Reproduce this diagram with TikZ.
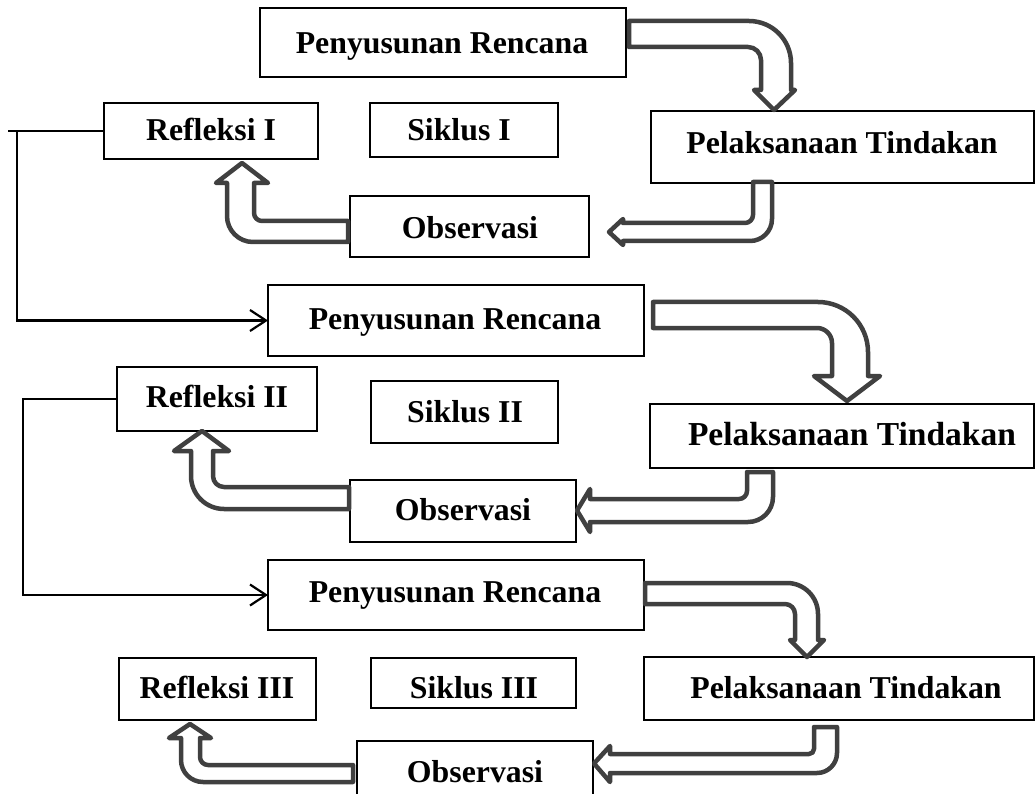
\documentclass[tikz,border=0pt]{standalone}
\usepackage{fontspec}
\setmainfont{Liberation Serif}
\usetikzlibrary{arrows.meta}
\definecolor{arrgray}{RGB}{64,64,64}
\begin{document}
\begin{tikzpicture}[x=1pt,y=1pt,
  box/.style={draw=black, line width=1.3pt, rectangle, inner sep=0pt, outer sep=0pt},
  lbl/.style={anchor=base, inner sep=0pt, font=\fontsize{31.8}{36}\selectfont\bfseries},
  barrow/.style={draw=arrgray, fill=white, line width=4.5pt, line join=round},
  conn/.style={draw=black, line width=2.2pt},
  tip/.style={-{Straight Barb[length=16pt,width=21pt]}}
]
\useasboundingbox (0,0) rectangle (1036,-794);
\fill[white] (0,0) rectangle (1036,-794);
\clip (0,0) rectangle (1036,-794);

% ---- boxes, cycle I
\node[box, minimum width=366pt, minimum height=69pt] (pr1) at (443,-42.5) {};
\node[box, minimum width=214pt, minimum height=56pt] (ri) at (211,-131) {};
\node[box, minimum width=188pt, minimum height=54pt] (si) at (464,-130) {};
\node[box, minimum width=383pt, minimum height=72pt] (pt1) at (842.5,-147) {};
\node[box, minimum width=239pt, minimum height=61pt] (oi) at (469.5,-226.5) {};
% ---- boxes, cycle II
\node[box, minimum width=376pt, minimum height=71pt] (pr2) at (456,-320.5) {};
\node[box, minimum width=200pt, minimum height=64pt] (rii) at (217,-399) {};
\node[box, minimum width=187pt, minimum height=62pt] (sii) at (464.5,-412) {};
\node[box, minimum width=384pt, minimum height=64pt] (pt2) at (842,-436) {};
\node[box, minimum width=226pt, minimum height=62pt] (oii) at (463,-511) {};
% ---- boxes, cycle III
\node[box, minimum width=376pt, minimum height=70pt] (pr3) at (456,-595) {};
\node[box, minimum width=197pt, minimum height=62pt] (riii) at (217.5,-689) {};
\node[box, minimum width=205pt, minimum height=50pt] (siii) at (473.5,-683) {};
\node[box, minimum width=390pt, minimum height=63pt] (pt3) at (839,-688.5) {};
\node[box, minimum width=236pt, minimum height=60pt] (oiii) at (475,-771) {};

% ---- texts
\node[lbl] (pr1t) at (442,-54) {Penyusunan Rencana};
\node[lbl] (rit) at (211,-141) {Refleksi I};
\node[lbl] (sit) at (459,-141) {Siklus I};
\node[lbl] (pt1t) at (842,-153.5) {Pelaksanaan Tindakan};
\node[lbl] (oit) at (470,-238.5) {Observasi};
\node[lbl] (pr2t) at (455,-329.5) {Penyusunan Rencana};
\node[lbl] (riit) at (217,-407.5) {Refleksi II};
\node[lbl] (siit) at (465,-422.5) {Siklus II};
\node[lbl, font=\fontsize{33.5}{38}\selectfont\bfseries] (pt2t) at (852,-445.5) {Pelaksanaan Tindakan};
\node[lbl] (oiit) at (463,-520.5) {Observasi};
\node[lbl] (pr3t) at (455,-602.5) {Penyusunan Rencana};
\node[lbl] (riiit) at (217,-698.5) {Refleksi III};
\node[lbl] (siiit) at (474,-698.5) {Siklus III};
\node[lbl] (pt3t) at (846,-698.5) {Pelaksanaan Tindakan};
\node[lbl] (oiiit) at (475,-782.5) {Observasi};

% ---- block arrows
% A1: pr1 -> pt1
\draw[barrow] (629,-47) -- (629,-21) -- (749,-21) arc[start angle=90,end angle=0,radius=42pt]
  -- (791,-90) -- (795,-90) -- (774,-110) -- (754,-90) -- (761,-90) -- (761,-60)
  arc[start angle=0,end angle=90,radius=13pt] -- cycle;
% A2: pt1 -> oi
\draw[barrow] (753,-182) -- (772,-182) -- (772,-219) arc[start angle=0,end angle=-90,radius=22pt]
  -- (623,-241) -- (623,-245) -- (609,-232) -- (623,-219) -- (623,-223) -- (745,-223)
  arc[start angle=-90,end angle=0,radius=8pt] -- cycle;
% A3: oi -> ri
\draw[barrow] (348,-242) -- (348,-221) -- (262,-221) arc[start angle=270,end angle=180,radius=8pt]
  -- (254,-183) -- (268,-183) -- (242,-163) -- (216,-183) -- (227,-183) -- (227,-216)
  arc[start angle=180,end angle=270,radius=26pt] -- cycle;
% A4: pr2 -> pt2
\draw[barrow] (653,-328) -- (653,-302) -- (818,-302) arc[start angle=90,end angle=0,radius=50pt]
  -- (868,-376) -- (880,-376) -- (847,-401) -- (814,-376) -- (832,-376) -- (832,-343)
  arc[start angle=0,end angle=90,radius=15pt] -- cycle;
% A5: pt2 -> oii
\draw[barrow] (747,-472) -- (773,-472) -- (773,-497) arc[start angle=0,end angle=-90,radius=25pt]
  -- (590,-522) -- (590,-532) -- (577,-510.5) -- (590,-489) -- (590,-499) -- (739,-499)
  arc[start angle=-90,end angle=0,radius=8pt] -- cycle;
% A6: oii -> rii
\draw[barrow] (349,-509) -- (349,-487) -- (224,-487) arc[start angle=270,end angle=180,radius=11pt]
  -- (213,-451) -- (229,-451) -- (202,-431) -- (174,-451) -- (191,-451) -- (191,-476)
  arc[start angle=180,end angle=270,radius=33pt] -- cycle;
% A7: pr3 -> pt3
\draw[barrow] (645,-604) -- (645,-583) -- (787,-583) arc[start angle=90,end angle=0,radius=31pt]
  -- (818,-640) -- (824,-640) -- (807,-657) -- (790,-640) -- (795,-640) -- (795,-614)
  arc[start angle=0,end angle=90,radius=10pt] -- cycle;
% A8: pt3 -> oiii
\draw[barrow] (814,-727) -- (837,-727) -- (837,-753) arc[start angle=0,end angle=-90,radius=20pt]
  -- (610,-773) -- (610,-782) -- (594,-763.5) -- (610,-746) -- (610,-754) -- (809,-754)
  arc[start angle=-90,end angle=0,radius=5pt] -- cycle;
% A9: oiii -> riii
\draw[barrow] (353,-782) -- (353,-765) -- (208,-765) arc[start angle=270,end angle=180,radius=8pt]
  -- (200,-738) -- (211,-738) -- (190,-724) -- (169,-738) -- (181,-738) -- (181,-760)
  arc[start angle=180,end angle=270,radius=22pt] -- cycle;

% ---- feedback connectors
\coordinate (c1a) at (8,-131);
\coordinate (c1b) at (17,-131);
\draw[conn] (ri.west) -- (c1a);
\draw[conn, tip] (c1b) |- (pr2.west);
\coordinate (c2a) at (23,-399);
\draw[conn, tip] (rii.west) -- (c2a) |- (pr3.west);
\end{tikzpicture}
\end{document}
